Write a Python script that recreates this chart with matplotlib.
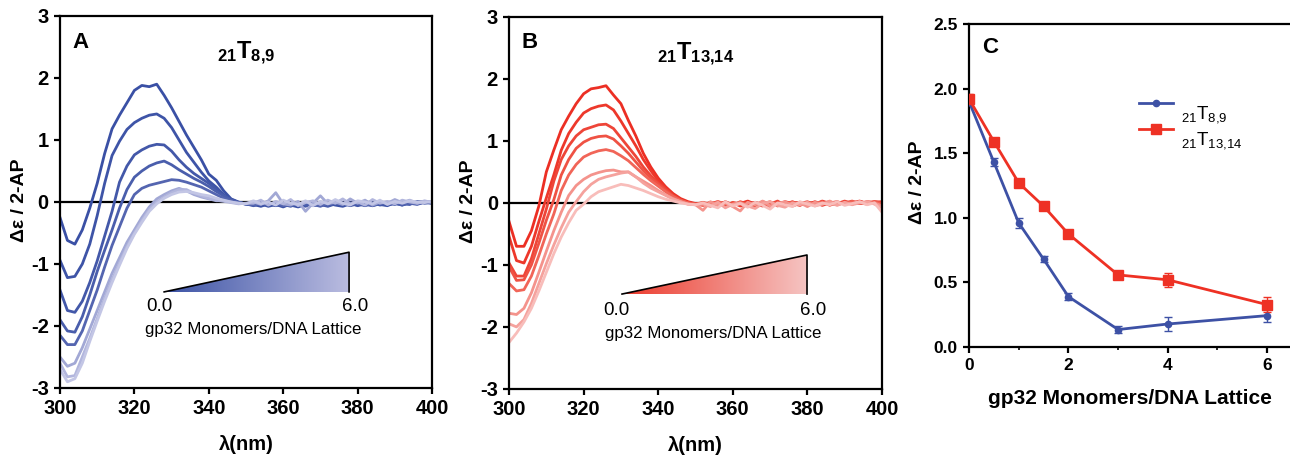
import numpy as np
import matplotlib
matplotlib.use('Agg')
import matplotlib.pyplot as plt
from matplotlib.colors import LinearSegmentedColormap
from matplotlib.patches import Polygon

plt.rcParams['font.family'] = ['Liberation Sans', 'DejaVu Sans']
plt.rcParams['mathtext.fontset'] = 'custom'
plt.rcParams['mathtext.rm'] = 'Liberation Sans'
plt.rcParams['mathtext.bf'] = 'Liberation Sans:bold'
plt.rcParams['mathtext.it'] = 'Liberation Sans:italic'
plt.rcParams['mathtext.sf'] = 'Liberation Sans'
plt.rcParams['axes.unicode_minus'] = False

# длины волн, нм (шаг 2 нм)
wl = np.arange(300, 401, 2)

# панель A: 21T8,9, от 0 до 6 мономеров gp32 на решётку
a_curves = [
    [-0.25, -0.62, -0.68, -0.45, -0.1, 0.3, 0.78, 1.18, 1.4, 1.6, 1.8, 1.88, 1.86, 1.9, 1.72, 1.52, 1.3, 1.08, 0.88, 0.68, 0.45, 0.35, 0.18, 0.05, 0.0, -0.04,
     -0.04, -0.07, -0.03, -0.06, -0.02, -0.05, -0.08, -0.04, -0.03, -0.06, -0.02, -0.05, -0.07, -0.03, -0.05, -0.02, -0.06, -0.03, -0.04, -0.02, -0.05, -0.01, -0.03, 0.0, -0.02],
    [-0.94, -1.22, -1.2, -1.0, -0.68, -0.22, 0.3, 0.75, 0.98, 1.17, 1.28, 1.35, 1.4, 1.42, 1.35, 1.2, 1.0, 0.8, 0.64, 0.48, 0.34, 0.24, 0.12, 0.04, -0.01, -0.03,
     -0.06, -0.03, -0.07, -0.04, -0.08, -0.03, -0.05, -0.02, -0.06, -0.04, -0.07, -0.03, -0.02, -0.06, -0.03, -0.05, -0.02, -0.04, -0.06, -0.01, -0.03, -0.04, 0.01, -0.02, -0.01],
    [-1.42, -1.75, -1.78, -1.6, -1.3, -0.95, -0.55, -0.15, 0.32, 0.58, 0.76, 0.84, 0.9, 0.93, 0.92, 0.82, 0.68, 0.56, 0.46, 0.38, 0.3, 0.2, 0.1, 0.04, -0.01, -0.03,
     -0.02, -0.05, -0.01, -0.04, -0.06, -0.02, -0.03, -0.07, -0.02, -0.04, -0.05, -0.01, -0.04, -0.02, -0.06, -0.03, -0.01, -0.05, -0.02, -0.04, 0.0, -0.03, -0.01, 0.01, -0.01],
    [-1.9, -2.08, -2.1, -1.85, -1.5, -1.12, -0.78, -0.45, -0.1, 0.2, 0.4, 0.5, 0.58, 0.63, 0.66, 0.6, 0.52, 0.45, 0.38, 0.32, 0.25, 0.17, 0.1, 0.03, -0.01, -0.03,
     -0.03, -0.01, -0.05, -0.02, -0.04, -0.07, -0.02, -0.05, -0.01, -0.03, -0.06, -0.02, -0.05, -0.01, -0.03, -0.06, -0.02, -0.01, -0.04, -0.02, -0.05, 0.0, -0.02, -0.01, 0.0],
    [-2.15, -2.3, -2.3, -2.08, -1.75, -1.42, -1.05, -0.7, -0.4, -0.1, 0.12, 0.22, 0.27, 0.3, 0.33, 0.36, 0.35, 0.32, 0.28, 0.24, 0.18, 0.12, 0.06, 0.02, -0.01, -0.03,
     -0.05, -0.02, -0.04, -0.01, -0.06, -0.03, -0.05, -0.01, -0.04, -0.07, -0.02, -0.03, -0.01, -0.05, -0.02, -0.04, -0.06, -0.02, -0.03, 0.0, -0.03, -0.02, -0.04, 0.0, -0.02],
    [-2.5, -2.65, -2.6, -2.35, -2.05, -1.75, -1.45, -1.15, -0.9, -0.65, -0.45, -0.25, -0.08, 0.05, 0.12, 0.18, 0.22, 0.18, 0.12, 0.08, 0.05, 0.02, 0.02, 0.0, -0.02, -0.02,
     0.0, -0.04, 0.02, 0.15, -0.03, -0.05, 0.01, -0.15, -0.02, 0.1, -0.03, 0.0, -0.04, 0.05, -0.02, 0.03, -0.05, 0.0, -0.02, 0.04, -0.01, 0.03, -0.02, 0.01, 0.0],
    [-2.6, -2.82, -2.8, -2.5, -2.2, -1.88, -1.55, -1.25, -0.98, -0.72, -0.5, -0.3, -0.12, 0.0, 0.08, 0.15, 0.2, 0.2, 0.14, 0.1, 0.06, 0.03, 0.01, -0.01, -0.03, -0.02,
     -0.02, 0.03, -0.05, 0.01, -0.03, 0.04, -0.06, -0.01, 0.02, -0.04, 0.03, -0.02, 0.05, -0.03, 0.0, -0.05, 0.04, -0.02, 0.01, -0.03, 0.03, 0.0, -0.02, 0.02, -0.01],
    [-2.7, -2.9, -2.85, -2.6, -2.25, -1.92, -1.6, -1.3, -1.02, -0.75, -0.52, -0.33, -0.15, -0.03, 0.06, 0.12, 0.16, 0.17, 0.15, 0.12, 0.1, 0.06, 0.03, 0.0, -0.02, -0.03,
     0.02, -0.03, 0.0, -0.05, 0.03, -0.02, -0.04, 0.02, -0.06, 0.01, -0.03, 0.04, -0.02, -0.05, 0.02, 0.0, -0.03, 0.03, -0.04, 0.01, -0.02, 0.02, 0.0, -0.01, 0.01],
]

# панель B: 21T13,14
b_curves = [
    [-0.3, -0.7, -0.7, -0.45, -0.05, 0.5, 0.85, 1.18, 1.4, 1.6, 1.76, 1.84, 1.86, 1.89, 1.74, 1.6, 1.33, 1.08, 0.8, 0.58, 0.4, 0.26, 0.15, 0.07, 0.02, -0.01,
     -0.02, 0.0, -0.04, 0.02, -0.03, -0.01, 0.03, -0.02, -0.05, 0.0, -0.03, 0.02, -0.01, -0.04, 0.01, -0.02, 0.03, -0.01, -0.03, 0.02, 0.0, 0.03, -0.01, 0.02, 0.01],
    [-0.54, -0.93, -0.97, -0.7, -0.3, 0.08, 0.45, 0.85, 1.12, 1.3, 1.45, 1.52, 1.56, 1.58, 1.5, 1.32, 1.12, 0.92, 0.7, 0.52, 0.36, 0.24, 0.13, 0.05, 0.0, -0.02,
     -0.04, -0.01, 0.02, -0.03, 0.0, -0.05, -0.02, 0.01, -0.03, -0.06, 0.0, -0.02, 0.02, -0.03, -0.01, 0.01, -0.04, 0.0, 0.02, -0.02, 0.01, -0.01, 0.02, 0.0, 0.02],
    [-0.97, -1.18, -1.18, -0.9, -0.5, -0.1, 0.35, 0.7, 0.92, 1.08, 1.18, 1.22, 1.26, 1.27, 1.2, 1.05, 0.9, 0.75, 0.58, 0.44, 0.32, 0.22, 0.12, 0.05, 0.0, -0.02,
     0.0, -0.03, -0.01, 0.01, -0.04, 0.02, -0.02, -0.05, 0.0, -0.02, 0.03, -0.04, 0.0, 0.01, -0.03, 0.02, -0.02, 0.01, -0.01, 0.03, -0.02, 0.02, 0.0, 0.01, -0.01],
    [-1.03, -1.25, -1.24, -1.0, -0.65, -0.28, 0.05, 0.45, 0.7, 0.88, 0.98, 1.04, 1.07, 1.08, 1.03, 0.92, 0.8, 0.66, 0.52, 0.4, 0.3, 0.2, 0.11, 0.04, 0.0, -0.02,
     -0.03, 0.01, -0.02, -0.05, 0.01, -0.02, 0.0, -0.04, 0.02, -0.01, -0.03, 0.01, -0.05, -0.01, 0.02, -0.03, 0.0, 0.02, -0.02, 0.0, 0.03, -0.01, 0.01, 0.02, 0.0],
    [-1.3, -1.42, -1.4, -1.18, -0.85, -0.5, -0.18, 0.2, 0.45, 0.62, 0.74, 0.8, 0.84, 0.86, 0.83, 0.76, 0.68, 0.57, 0.46, 0.36, 0.27, 0.18, 0.1, 0.04, 0.0, -0.02,
     0.01, -0.02, 0.02, -0.01, -0.03, 0.01, -0.04, 0.0, -0.02, 0.02, -0.05, -0.01, 0.01, -0.03, 0.0, -0.02, 0.02, -0.04, 0.01, -0.01, 0.02, 0.0, -0.02, 0.01, -0.02],
    [-1.78, -1.8, -1.7, -1.45, -1.12, -0.78, -0.45, -0.15, 0.12, 0.28, 0.38, 0.45, 0.49, 0.52, 0.53, 0.5, 0.5, 0.42, 0.35, 0.28, 0.2, 0.13, 0.07, 0.02, -0.02, -0.03,
     -0.12, 0.02, -0.04, 0.0, -0.06, -0.13, 0.01, -0.03, 0.03, -0.05, -0.01, 0.02, -0.04, 0.0, -0.06, 0.01, -0.02, 0.03, -0.03, 0.0, -0.02, 0.02, -0.01, 0.0, -0.05],
    [-1.95, -2.0, -1.88, -1.62, -1.3, -0.98, -0.68, -0.4, -0.15, 0.02, 0.18, 0.3, 0.38, 0.42, 0.45, 0.48, 0.5, 0.42, 0.32, 0.24, 0.18, 0.12, 0.06, 0.02, -0.02, -0.03,
     -0.02, -0.06, 0.01, -0.08, -0.02, 0.0, -0.05, -0.09, -0.01, 0.02, -0.04, -0.07, 0.0, -0.03, 0.01, -0.05, -0.02, 0.0, -0.04, 0.01, -0.03, 0.0, 0.02, -0.02, -0.08],
    [-2.25, -2.1, -1.92, -1.7, -1.42, -1.12, -0.82, -0.55, -0.32, -0.12, -0.02, 0.1, 0.18, 0.22, 0.26, 0.3, 0.28, 0.24, 0.2, 0.15, 0.1, 0.06, 0.03, 0.0, -0.02, -0.03,
     0.0, -0.04, -0.08, 0.02, -0.05, -0.01, -0.07, 0.01, -0.04, -0.1, 0.0, -0.03, -0.06, 0.02, -0.02, -0.05, 0.0, -0.03, 0.02, -0.04, -0.01, 0.02, -0.03, 0.0, -0.15],
]

a_colors = ['#3A50A5', '#3E54A7', '#4358A9', '#4A5EAC', '#5465B0', '#A2A8D5', '#B2B6DD', '#C3C6E5']
b_colors = ['#EC2F24', '#ED382B', '#EE4538', '#EF5244', '#F16558', '#F4938C', '#F5A29D', '#F8BDBA']

# панель C: сигнал против отношения gp32/решётка
ratio = [0, 0.5, 1, 1.5, 2, 3, 4, 6]
c_t89 = [1.9, 1.43, 0.96, 0.68, 0.39, 0.135, 0.178, 0.243]
c_t89_err = [0.03, 0.03, 0.04, 0.025, 0.03, 0.03, 0.055, 0.05]
c_t1314 = [1.92, 1.59, 1.27, 1.09, 0.875, 0.558, 0.52, 0.328]
c_t1314_err = [0.04, 0.03, 0.03, 0.025, 0.03, 0.03, 0.055, 0.06]

fig = plt.figure(figsize=(12.9, 4.57), dpi=100)
axA = fig.add_axes([0.0465, 0.151, 0.2884, 0.814])
axB = fig.add_axes([0.3946, 0.149, 0.2891, 0.814])
axC = fig.add_axes([0.7512, 0.2407, 0.2488, 0.7068])


def spectra_panel(ax, curves, colors, letter, title, wedge, c0, c1, txt):
    ax.axhline(0, color='black', lw=1.6, zorder=1)
    for y, c in zip(curves, colors):
        ax.plot(wl, y, color=c, lw=2.0, zorder=2)
    ax.set_xticks([300, 320, 340, 360, 380, 400])
    ax.set_yticks([-3, -2, -1, 0, 1, 2, 3])
    for s in ax.spines.values():
        s.set_linewidth(1.6)
    ax.tick_params(direction='out', length=4.5, width=1.6, labelsize=14.5)
    for t in ax.get_xticklabels() + ax.get_yticklabels():
        t.set_fontweight('bold')
    ax.set_xlabel('λ(nm)', fontsize=14.5, fontweight='bold', va='center')
    ax.xaxis.set_label_coords(0.5, -0.153)
    ax.set_ylabel('Δε / 2-AP', fontsize=14, fontweight='bold', va='center')
    ax.yaxis.set_label_coords(-0.108, 0.505)
    ax.text(0.056, 0.93, letter, transform=ax.transAxes, ha='center', va='center',
            fontsize=16, fontweight='bold')
    ax.text(0.5, 0.9, title, transform=ax.transAxes, ha='center', va='center', fontsize=17)

    # клин концентрации
    x0, x1, y0, y1 = wedge
    cmap = LinearSegmentedColormap.from_list('w', [c0, c1])
    grad = np.linspace(0, 1, 256).reshape(1, -1)
    im = ax.imshow(grad, extent=[x0, x1, y0, y1], aspect='auto', cmap=cmap,
                   origin='lower', zorder=3, interpolation='bilinear')
    poly = Polygon([[x0, y0], [x1, y0], [x1, y1]], closed=True, transform=ax.transData)
    im.set_clip_path(poly)
    ax.plot([x0, x1, x1], [y0, y1, y0], color='black', lw=1.2, zorder=4)
    ax.set_xlim(300, 400)
    ax.set_ylim(-3, 3)
    (tx0, ty0), (tx1, ty1), (lx, ly) = txt
    ax.text(tx0, ty0, '0.0', ha='center', va='center', fontsize=13.5)
    ax.text(tx1, ty1, '6.0', ha='center', va='center', fontsize=13.5)
    ax.text(lx, ly, 'gp32 Monomers/DNA Lattice', ha='center', va='center', fontsize=12.2)


spectra_panel(axA, a_curves, a_colors, 'A', r'$\mathbf{{}_{21}T_{8{,}9}}$',
              (328, 377.7, -1.45, -0.81), '#3B52A5', '#BABCE0',
              ((326.6, -1.69), (379.3, -1.69), (352, -2.06)))
spectra_panel(axB, b_curves, b_colors, 'B', r'$\mathbf{{}_{21}T_{13{,}14}}$',
              (330.3, 379.9, -1.47, -0.84), '#EC3A2C', '#F5C4C2',
              ((328.7, -1.73), (381.5, -1.73), (354.7, -2.1)))

# панель C
blue = '#3D51A5'
red = '#EE3124'
axC.errorbar(ratio, c_t89, yerr=c_t89_err, fmt='none', ecolor=blue,
             elinewidth=1.0, capsize=3, capthick=1.0, zorder=3)
axC.errorbar(ratio, c_t1314, yerr=c_t1314_err, fmt='none', ecolor=red,
             elinewidth=1.0, capsize=3, capthick=1.0, zorder=3)
axC.plot(ratio, c_t89, color=blue, lw=2.0, marker='o', ms=4.5,
         label=r'${}_{21}\mathrm{T}_{8{,}9}$', zorder=4)
axC.plot(ratio, c_t1314, color=red, lw=2.0, marker='s', ms=6.5,
         label=r'${}_{21}\mathrm{T}_{13{,}14}$', zorder=4)
axC.set_xlim(0, 6.46)
axC.set_ylim(0, 2.5)
axC.set_xticks([0, 2, 4, 6])
axC.set_xticks([1, 3, 5], minor=True)
axC.set_yticks([0, 0.5, 1.0, 1.5, 2.0, 2.5])
axC.set_yticklabels(['0.0', '0.5', '1.0', '1.5', '2.0', '2.5'])
axC.spines['right'].set_visible(False)
for s in axC.spines.values():
    s.set_linewidth(1.6)
axC.tick_params(direction='out', length=4.5, width=1.6, labelsize=12.5)
axC.tick_params(which='minor', direction='out', length=2.5, width=1.2)
for t in axC.get_xticklabels() + axC.get_yticklabels():
    t.set_fontweight('bold')
axC.set_xlabel('gp32 Monomers/DNA Lattice', fontsize=15, fontweight='bold', va='center')
axC.xaxis.set_label_coords(0.5, -0.158)
axC.set_ylabel('Δε / 2-AP', fontsize=14, fontweight='bold', va='center')
axC.yaxis.set_label_coords(-0.162, 0.51)
axC.text(0.065, 0.926, 'C', transform=axC.transAxes, ha='center', va='center',
         fontsize=16, fontweight='bold')
leg = axC.legend(loc='upper left', bbox_to_anchor=(0.5, 0.81), frameon=False, fontsize=13.5,
                 handlelength=1.8, labelspacing=0.3, handletextpad=0.45,
                 borderpad=0, numpoints=1)
for t in leg.get_texts():
    t.set_position((0, -9))

fig.savefig('out.png', dpi=100)
